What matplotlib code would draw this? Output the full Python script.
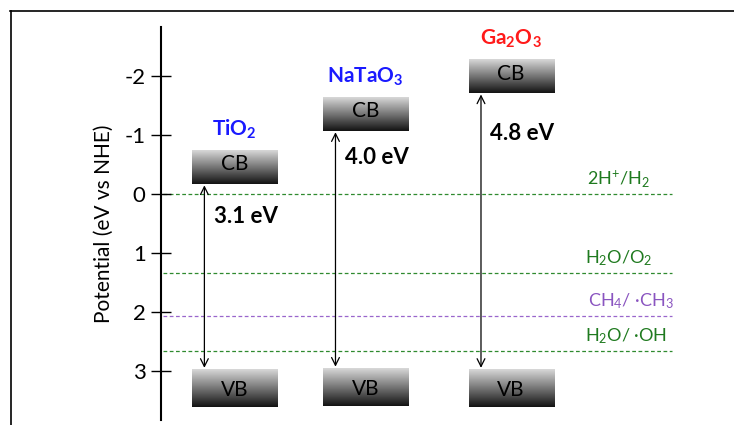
import numpy as np
import matplotlib
matplotlib.use("Agg")
import matplotlib.pyplot as plt
from matplotlib.lines import Line2D

plt.rcParams['font.family'] = ['Lato', 'DejaVu Sans']
plt.rcParams['mathtext.fontset'] = 'custom'
plt.rcParams['mathtext.rm'] = 'Lato'
plt.rcParams['mathtext.bf'] = 'Lato:bold'
plt.rcParams['mathtext.it'] = 'Lato'

# semiconductors: band edges (eV vs NHE)
materials = [r'TiO$_\mathbf{2}$', r'NaTaO$_\mathbf{3}$', r'Ga$_\mathbf{2}$O$_\mathbf{3}$']
material_colors = ['#1a1aff', '#1a1aff', '#ff1a1a']
cb_edge = [-0.17, -1.07, -1.71]
vb_edge = [2.97, 2.95, 2.97]
gap_labels = ['3.1 eV', '4.0 eV', '4.8 eV']

# redox potentials (eV vs NHE)
redox_names = [r'2H$^{+}$/H$_2$', r'H$_2$O/O$_2$', r'CH$_4$/ ·CH$_3$', r'H$_2$O/ ·OH']
redox_values = [0.0, 1.34, 2.07, 2.66]
redox_colors = ['#2f8a2f', '#2f8a2f', '#9966cc', '#2f8a2f']
redox_text_colors = ['#1f7a1f', '#1f7a1f', '#8a55c0', '#1f7a1f']

yticks = [-2, -1, 0, 1, 2, 3]

# layout
xpos = [0, 1, 2.11]
box_w = 0.65
cb_h = 0.56
vb_h = 0.64
gap_label_y = [0.38, -0.62, -1.03]
redox_label_x = [2.93, 2.93, 3.02, 2.99]

fig = plt.figure(figsize=(7.34, 4.25), dpi=100)
ax = fig.add_axes([161 / 734, 5 / 425, 573 / 734, 393 / 425])
ax.set_xlim(-0.561, 3.81)
ax.set_ylim(3.83, -2.83)

for s in ['top', 'right', 'bottom']:
    ax.spines[s].set_visible(False)
ax.spines['left'].set_linewidth(1.5)
ax.set_xticks([])
ax.set_yticks(yticks)
ax.set_yticklabels([str(t) for t in yticks])
ax.tick_params(axis='y', direction='inout', length=14, width=1, labelsize=16, pad=4)
ax.set_ylabel('Potential (eV vs NHE)', fontsize=15, labelpad=8)

grad = np.linspace(0, 1, 100).reshape(-1, 1)
for i, x in enumerate(xpos):
    # conduction band box: light at top, dark at bottom
    ax.imshow(grad, cmap='gray_r', vmin=-0.2, vmax=1.1, aspect='auto',
              extent=(x - box_w / 2, x + box_w / 2, cb_edge[i], cb_edge[i] - cb_h),
              origin='upper', zorder=2)
    ax.text(x, cb_edge[i] - cb_h / 2 - 0.05, 'CB', ha='center', va='center', fontsize=15, zorder=3)
    # valence band box: dark at top, light at bottom
    ax.imshow(grad, cmap='gray', vmin=-0.1, vmax=1.2, aspect='auto',
              extent=(x - box_w / 2, x + box_w / 2, vb_edge[i] + vb_h, vb_edge[i]),
              origin='lower', zorder=2)
    ax.text(x, vb_edge[i] + vb_h / 2 + 0.03, 'VB', ha='center', va='center', fontsize=15, zorder=3)
    # material name
    ax.text(x, cb_edge[i] - cb_h - 0.36, materials[i], ha='center', va='center',
            fontsize=15, fontweight='bold', color=material_colors[i])
    # band gap arrow
    ax_x = x - 0.23
    ax.annotate('', xy=(ax_x, cb_edge[i]), xytext=(ax_x, vb_edge[i]),
                arrowprops=dict(arrowstyle='<->', color='black', lw=0.9,
                                shrinkA=1, shrinkB=1, mutation_scale=14), zorder=4)
    ax.text(ax_x + 0.07, gap_label_y[i], gap_labels[i], ha='left', va='center',
            fontsize=16, fontweight='bold')

for name, val, c, tc, lx in zip(redox_names, redox_values, redox_colors, redox_text_colors, redox_label_x):
    ax.plot([-0.545, 3.34], [val, val], ls=(0, (3, 2)), color=c, lw=0.9, zorder=1)
    ax.text(lx, val - 0.25, name, ha='center', va='center', fontsize=13, color=tc)

# frame around the figure
fig.add_artist(Line2D([10 / 734, 1], [1 - 11 / 425, 1 - 11 / 425], transform=fig.transFigure, color='black', lw=1.2))
fig.add_artist(Line2D([11 / 734, 11 / 734], [0, 1 - 11 / 425], transform=fig.transFigure, color='black', lw=1.2))

fig.savefig('out.png', dpi=100)
